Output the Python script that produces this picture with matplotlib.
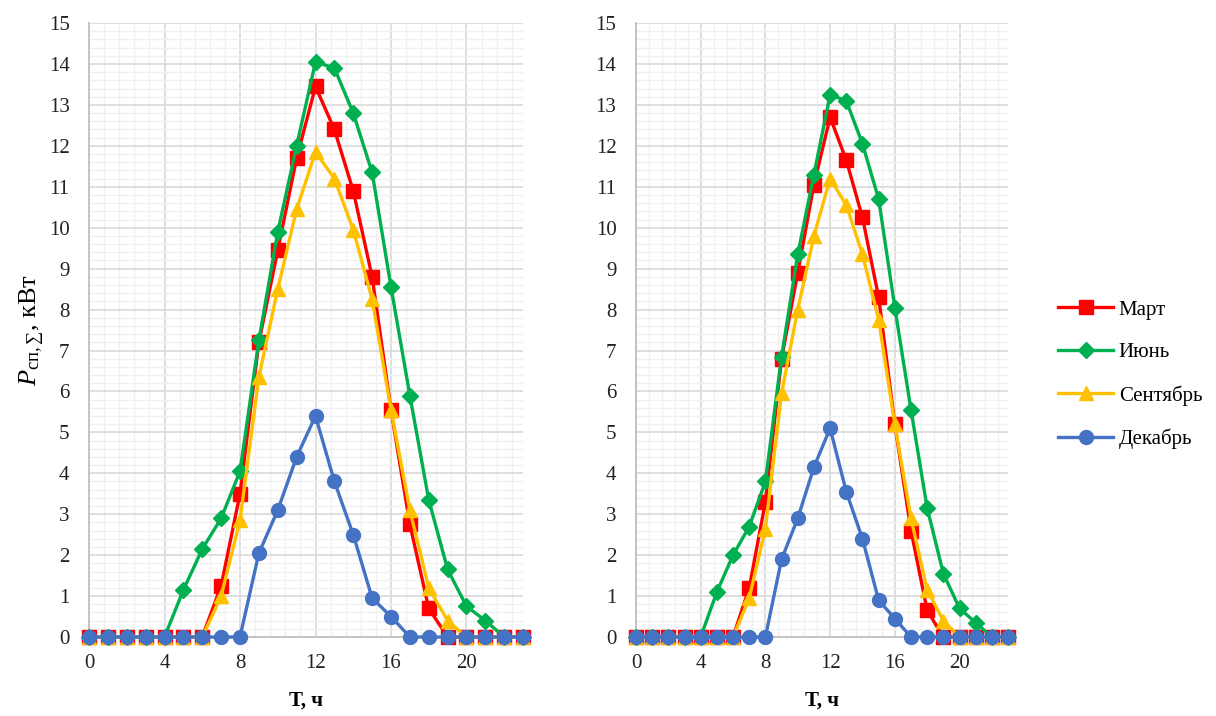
import numpy as np
import matplotlib.pyplot as plt
from matplotlib.ticker import MultipleLocator

plt.rcParams['font.family'] = ['Liberation Serif', 'DejaVu Serif']
plt.rcParams['mathtext.fontset'] = 'custom'
plt.rcParams['mathtext.rm'] = 'Liberation Serif'
plt.rcParams['mathtext.it'] = 'Liberation Serif:italic'

hours = np.arange(24)
months = ['Март', 'Июнь', 'Сентябрь', 'Декабрь']

# left panel
left_mar = [0, 0, 0, 0, 0, 0, 0, 1.25, 3.5, 7.2, 9.45, 11.7, 13.45, 12.4, 10.9, 8.8, 5.55, 2.75, 0.7, 0, 0, 0, 0, 0]
left_jun = [0, 0, 0, 0, 0, 1.15, 2.15, 2.9, 4.05, 7.25, 9.9, 12.0, 14.05, 13.9, 12.8, 11.35, 8.55, 5.9, 3.35, 1.65, 0.75, 0.4, 0, 0]
left_sep = [0, 0, 0, 0, 0, 0, 0, 1.0, 2.85, 6.35, 8.5, 10.45, 11.85, 11.2, 9.95, 8.25, 5.55, 3.1, 1.2, 0.4, 0, 0, 0, 0]
left_dec = [0, 0, 0, 0, 0, 0, 0, 0, 0, 2.05, 3.1, 4.4, 5.4, 3.8, 2.5, 0.95, 0.5, 0, 0, 0, 0, 0, 0, 0]

# right panel
right_mar = [0, 0, 0, 0, 0, 0, 0, 1.2, 3.3, 6.8, 8.9, 11.05, 12.7, 11.65, 10.25, 8.3, 5.2, 2.6, 0.65, 0, 0, 0, 0, 0]
right_jun = [0, 0, 0, 0, 0, 1.1, 2.0, 2.7, 3.8, 6.85, 9.35, 11.3, 13.25, 13.1, 12.05, 10.7, 8.05, 5.55, 3.15, 1.55, 0.7, 0.35, 0, 0]
right_sep = [0, 0, 0, 0, 0, 0, 0, 0.95, 2.65, 5.95, 8.0, 9.8, 11.2, 10.55, 9.35, 7.75, 5.2, 2.9, 1.15, 0.4, 0, 0, 0, 0]
right_dec = [0, 0, 0, 0, 0, 0, 0, 0, 0, 1.9, 2.9, 4.15, 5.1, 3.55, 2.4, 0.9, 0.45, 0, 0, 0, 0, 0, 0, 0]

colors = ['#FF0000', '#00B050', '#FFC000', '#4472C4']
markers = ['s', 'D', '^', 'o']
msizes = [10.5, 8.5, 10.5, 10]

fig = plt.figure(figsize=(12.16, 7.16), dpi=100)
ax1 = fig.add_axes([0.0732, 0.1103, 0.357, 0.8575])
ax2 = fig.add_axes([0.523, 0.1103, 0.306, 0.8575])


def draw(ax, series):
    lines = []
    for vals, name, c, m, ms in zip(series, months, colors, markers, msizes):
        ln, = ax.plot(hours, vals, color=c, marker=m, markersize=ms, lw=2.4,
                      label=name, clip_on=False, zorder=3)
        lines.append(ln)
    ax.set_xlim(0, 23)
    ax.set_ylim(0, 15)
    ax.xaxis.set_major_locator(MultipleLocator(4))
    ax.xaxis.set_minor_locator(MultipleLocator(0.8))
    ax.yaxis.set_major_locator(MultipleLocator(1))
    ax.yaxis.set_minor_locator(MultipleLocator(0.2))
    ax.grid(which='minor', color='#F0F0F0', lw=1.0)
    ax.grid(which='major', color='#D9D9D9', lw=1.2)
    ax.set_axisbelow(True)
    ax.tick_params(which='both', length=0, labelsize=15, colors='#222222')
    ax.tick_params(axis='y', pad=14)
    ax.tick_params(axis='x', pad=12)
    for s in ['top', 'right']:
        ax.spines[s].set_visible(False)
    for s in ['left', 'bottom']:
        ax.spines[s].set_color('#BFBFBF')
        ax.spines[s].set_linewidth(1.3)
    ax.set_xlabel('Т, ч', fontsize=15, fontweight='bold', labelpad=13)
    return lines


lines = draw(ax1, [left_mar, left_jun, left_sep, left_dec])
draw(ax2, [right_mar, right_jun, right_sep, right_dec])
ax1.set_ylabel(r'$P_{\mathrm{сп,}\mathrm{∑}}$, кВт', fontsize=19, labelpad=2)

fig.legend(handles=lines, loc='center left', bbox_to_anchor=(0.855, 0.477),
           frameon=False, fontsize=15, labelspacing=1.1, handlelength=2.6,
           handletextpad=0.3)

fig.savefig('out.png', dpi=100)
